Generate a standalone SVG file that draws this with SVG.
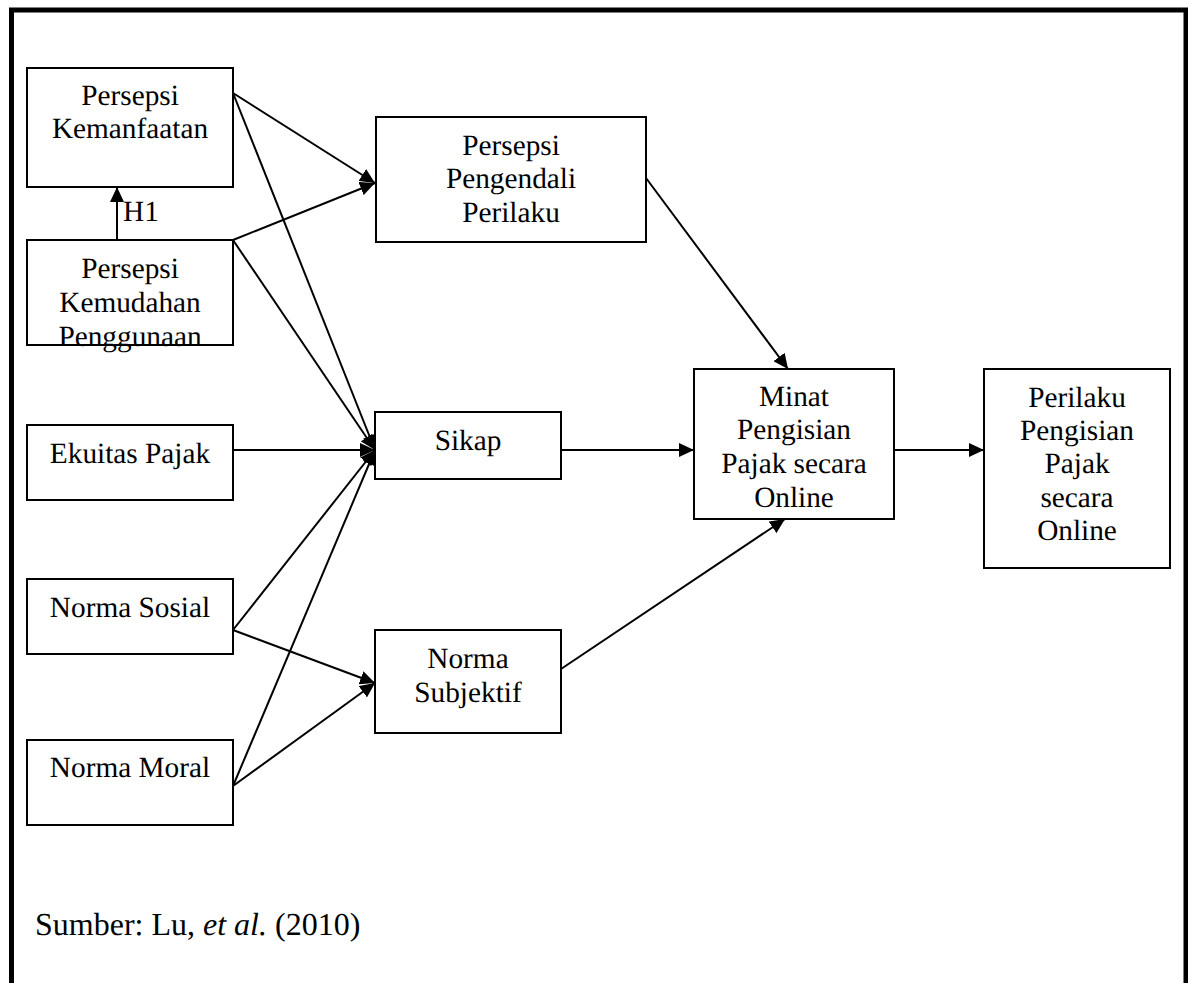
<svg xmlns="http://www.w3.org/2000/svg" width="1188" height="983" viewBox="0 0 1188 983">
<defs>
<marker id="arr" markerUnits="userSpaceOnUse" markerWidth="16" markerHeight="14" refX="15" refY="7" orient="auto">
<path d="M0,0 L15,7 L0,14 z" fill="#000"/>
</marker>
<style>
.box{fill:#fff;stroke:#000;stroke-width:2}
text{font-family:"Liberation Serif","Times New Roman",serif;fill:#000;text-rendering:geometricPrecision}
.t{text-anchor:middle;font-size:29.3px}
.c line{stroke:#000;stroke-width:2;marker-end:url(#arr)}
</style>
</defs>
<rect x="0" y="0" width="1188" height="983" fill="#fff"/>
<rect x="11.5" y="10" width="1174.5" height="990" fill="none" stroke="#000" stroke-width="5"/>

<g id="connectors" class="c">
<line x1="233" y1="93" x2="375" y2="183"/>
<line x1="233" y1="240" x2="375" y2="183"/>
<line x1="233" y1="93" x2="375" y2="450"/>
<line x1="233" y1="240" x2="375" y2="450"/>
<line x1="233" y1="450" x2="375" y2="450"/>
<line x1="233" y1="630" x2="375" y2="450"/>
<line x1="233" y1="786" x2="375" y2="450"/>
<line x1="233" y1="630" x2="375" y2="683"/>
<line x1="233" y1="786" x2="375" y2="683"/>
<line x1="646" y1="178" x2="788" y2="369"/>
<line x1="561" y1="450" x2="694" y2="450"/>
<line x1="561" y1="669" x2="785" y2="519"/>
<line x1="894" y1="450" x2="984" y2="450"/>
<line x1="117" y1="240" x2="117" y2="187"/>
</g>
<text x="123" y="221" font-size="29.3">H1</text>

<g id="pk">
<rect class="box" x="27" y="68" width="206" height="119"/>
<text class="t" x="130" y="105">Persepsi</text>
<text class="t" x="130" y="138">Kemanfaatan</text>
</g>
<g id="pkp">
<rect class="box" x="27" y="240" width="206" height="105"/>
<text class="t" x="130" y="278">Persepsi</text>
<text class="t" x="130" y="312">Kemudahan</text>
<text class="t" x="130" y="346">Penggunaan</text>
</g>
<g id="ekuitas">
<rect class="box" x="27" y="425" width="206" height="75"/>
<text class="t" x="130" y="463">Ekuitas Pajak</text>
</g>
<g id="nsosial">
<rect class="box" x="27" y="579" width="206" height="75"/>
<text class="t" x="130" y="617">Norma Sosial</text>
</g>
<g id="nmoral">
<rect class="box" x="27" y="740" width="206" height="85"/>
<text class="t" x="130" y="777">Norma Moral</text>
</g>
<g id="ppp">
<rect class="box" x="376" y="117" width="270" height="125"/>
<text class="t" x="511" y="155">Persepsi</text>
<text class="t" x="511" y="188">Pengendali</text>
<text class="t" x="511" y="222">Perilaku</text>
</g>
<g id="sikap">
<rect class="box" x="375" y="412" width="186" height="67"/>
<text class="t" x="468" y="450">Sikap</text>
</g>
<g id="nsubj">
<rect class="box" x="375" y="630" width="186" height="103"/>
<text class="t" x="468" y="668">Norma</text>
<text class="t" x="468" y="702">Subjektif</text>
</g>
<g id="minat">
<rect class="box" x="694" y="369" width="200" height="150"/>
<text class="t" x="794" y="406">Minat</text>
<text class="t" x="794" y="439">Pengisian</text>
<text class="t" x="794" y="473">Pajak secara</text>
<text class="t" x="794" y="507">Online</text>
</g>
<g id="perilaku">
<rect class="box" x="984" y="369" width="186" height="199"/>
<text class="t" x="1077" y="407">Perilaku</text>
<text class="t" x="1077" y="440">Pengisian</text>
<text class="t" x="1077" y="473">Pajak</text>
<text class="t" x="1077" y="507">secara</text>
<text class="t" x="1077" y="540">Online</text>
</g>
<text x="35" y="935" font-size="32">Sumber: Lu, <tspan font-style="italic">et al.</tspan> (2010)</text>
</svg>
